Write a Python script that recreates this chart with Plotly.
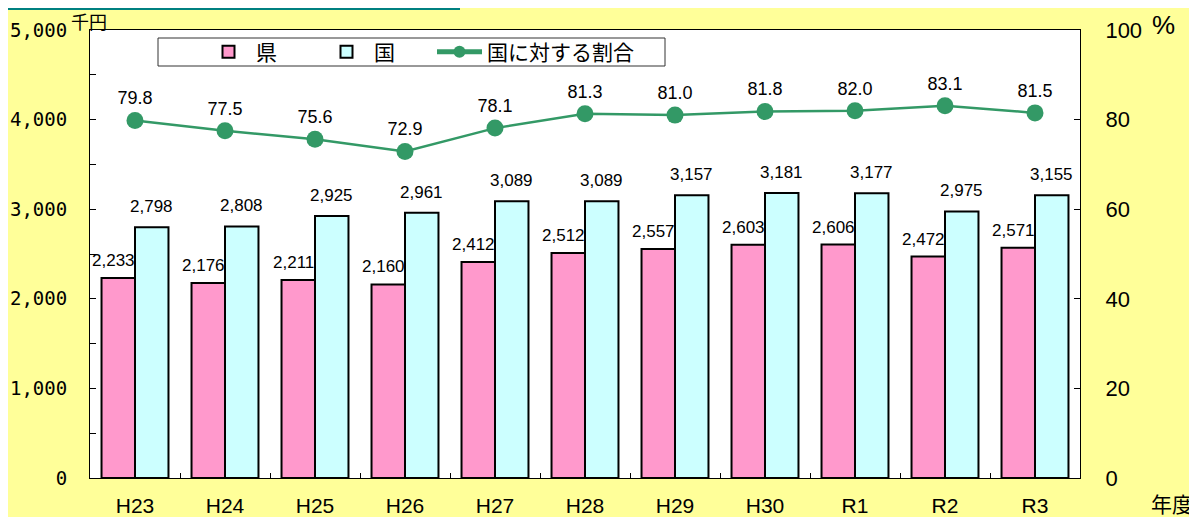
import plotly.graph_objects as go

years = ["H23", "H24", "H25", "H26", "H27", "H28", "H29", "H30", "R1", "R2", "R3"]
pref = [2233, 2176, 2211, 2160, 2412, 2512, 2557, 2603, 2606, 2472, 2571]
nation = [2798, 2808, 2925, 2961, 3089, 3089, 3157, 3181, 3177, 2975, 3155]
ratio = [79.8, 77.5, 75.6, 72.9, 78.1, 81.3, 81.0, 81.8, 82.0, 83.1, 81.5]

JP = "Noto Sans CJK JP, sans-serif"
SANS = "Liberation Sans, Arial, sans-serif"
NARROW = "Liberation Sans Narrow, Arial Narrow, Liberation Sans, sans-serif"
MONO = "DejaVu Sans Mono, monospace"

# target plot area in page pixels
PX0, PX1, PY0, PY1 = 90, 1080, 30, 478
OFF = 8  # page body margin
W, H = 1197 - OFF, 517 - OFF


def px(x):
    return (x - PX0) / (PX1 - PX0)


def py(y):
    return (PY1 - y) / (PY1 - PY0)


fig = go.Figure()
fig.add_trace(go.Bar(
    x=years, y=pref, name="県", legend="legend",
    marker=dict(color="#FF99CC", line=dict(color="black", width=2)),
))
fig.add_trace(go.Bar(
    x=years, y=nation, name="国", legend="legend",
    marker=dict(color="#CCFFFF", line=dict(color="black", width=2)),
))
fig.add_trace(go.Scatter(
    x=years, y=ratio, name="国に対する割合", yaxis="y2", legend="legend2",
    mode="lines+markers+text",
    line=dict(color="#339966", width=2.5),
    marker=dict(color="#339966", size=17),
    text=[f"{v:.1f}" for v in ratio], textposition="top center",
    textfont=dict(size=18, color="black", family=SANS), cliponaxis=False,
))

annotations = []
for c, v in zip(years, pref):
    annotations.append(dict(x=c, y=v, xref="x", yref="y", text=f"{v:,}",
                            showarrow=False, xanchor="center", yanchor="bottom",
                            xshift=-22, yshift=6, font=dict(size=17, family=SANS)))
for c, v in zip(years, nation):
    annotations.append(dict(x=c, y=v, xref="x", yref="y", text=f"{v:,}",
                            showarrow=False, xanchor="center", yanchor="bottom",
                            xshift=16, yshift=9, font=dict(size=17, family=SANS)))

annotations += [
    dict(text="千円", xref="paper", yref="paper", x=px(89), y=py(21),
         xanchor="center", yanchor="middle", showarrow=False, font=dict(size=18, family=JP)),
    dict(text="%", xref="paper", yref="paper", x=px(1163), y=py(25),
         xanchor="center", yanchor="middle", showarrow=False, font=dict(size=26, family=SANS)),
    dict(text="年度", xref="paper", yref="paper", x=px(1172), y=py(503),
         xanchor="center", yanchor="middle", showarrow=False, font=dict(size=21, family=JP)),
]

legend_common = dict(orientation="h", xanchor="left", yanchor="middle",
                     bgcolor="rgba(0,0,0,0)", borderwidth=0,
                     font=dict(size=21, family=JP), itemwidth=45)

fig.update_layout(
    width=W, height=H,
    paper_bgcolor="#FFFF99", plot_bgcolor="white",
    margin=dict(l=PX0 - OFF, r=W - (PX1 - OFF), t=PY0 - OFF, b=H - (PY1 - OFF), pad=0),
    barmode="group", bargap=0.256, bargroupgap=0,
    font=dict(family=JP, color="black"),
    showlegend=True,
    legend=dict(x=px(201), y=py(52), entrywidth=58, **legend_common),
    legend2=dict(x=px(432), y=py(52), itemsizing="constant", **legend_common),
    xaxis=dict(range=[-0.5, 10.5], automargin=False,
               showline=True, linecolor="black", linewidth=1, mirror=True,
               ticks="inside", tickson="boundaries", ticklen=5, tickcolor="black",
               tickfont=dict(size=21, family=NARROW), ticklabelstandoff=9,
               showgrid=False),
    yaxis=dict(range=[0, 5000], dtick=1000, tickformat=",", showgrid=False, automargin=False,
               showline=True, linecolor="black", linewidth=1,
               ticks="inside", ticklen=6, tickcolor="black",
               minor=dict(ticks="inside", dtick=500, ticklen=6, tickcolor="black"),
               tickfont=dict(size=19, family=MONO), ticklabelstandoff=18, zeroline=False),
    yaxis2=dict(range=[0, 100], dtick=20, overlaying="y", side="right", automargin=False,
                showgrid=False, showline=True, linecolor="black", linewidth=1,
                ticks="inside", ticklen=6, tickcolor="black",
                tickfont=dict(size=22, family=SANS), ticklabelstandoff=20, zeroline=False),
    shapes=[
        dict(type="rect", xref="paper", yref="paper", x0=px(158), x1=px(665),
             y0=py(66), y1=py(38), fillcolor="white", line=dict(color="#333", width=1),
             layer="below"),
        dict(type="line", xref="paper", yref="paper", x0=px(0), x1=px(460),
             y0=py(9), y1=py(9), line=dict(color="#008080", width=2)),
    ],
    annotations=annotations,
)

fig.write_html("out.html")
